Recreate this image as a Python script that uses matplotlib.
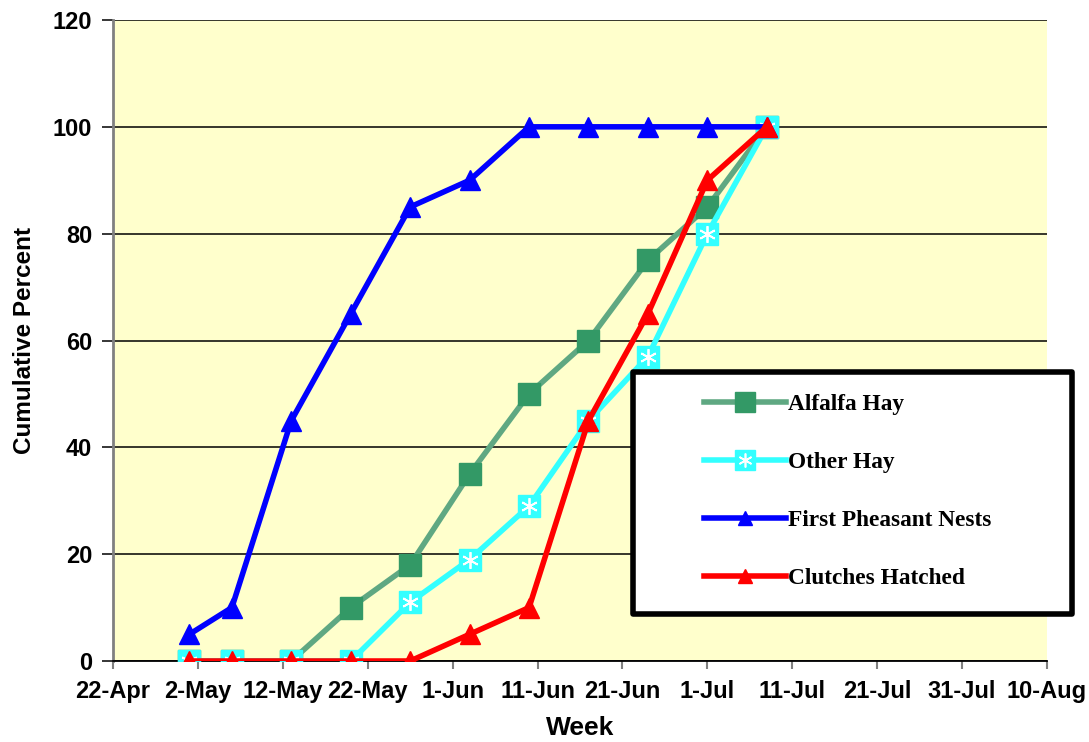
import matplotlib
matplotlib.use("Agg")
import matplotlib.pyplot as plt
from matplotlib.patches import Rectangle
from matplotlib.lines import Line2D
import datetime as dt

# ---- data ----
dates = ["2003-05-01", "2003-05-06", "2003-05-13", "2003-05-20", "2003-05-27",
         "2003-06-03", "2003-06-10", "2003-06-17", "2003-06-24", "2003-07-01",
         "2003-07-08"]
alfalfa_hay = [0, 0, 0, 10, 18, 35, 50, 60, 75, 85, 100]
other_hay = [0, 0, 0, 0, 11, 19, 29, 45, 57, 80, 100]
first_nests = [5, 10, 45, 65, 85, 90, 100, 100, 100, 100, 100]
clutches_hatched = [0, 0, 0, 0, 0, 5, 10, 45, 65, 90, 100]
series_names = ["Alfalfa Hay", "Other Hay", "First Pheasant Nests", "Clutches Hatched"]
tick_dates = ["2003-04-22", "2003-05-02", "2003-05-12", "2003-05-22", "2003-06-01",
              "2003-06-11", "2003-06-21", "2003-07-01", "2003-07-11", "2003-07-21",
              "2003-07-31", "2003-08-10"]
tick_labels = ["22-Apr", "2-May", "12-May", "22-May", "1-Jun", "11-Jun", "21-Jun",
               "1-Jul", "11-Jul", "21-Jul", "31-Jul", "10-Aug"]
y_ticks = [0, 20, 40, 60, 80, 100, 120]

x = [dt.datetime.strptime(d, "%Y-%m-%d") for d in dates]
xt = [dt.datetime.strptime(d, "%Y-%m-%d") for d in tick_dates]

W, H = 1089, 742
fig = plt.figure(figsize=(W / 100, H / 100), dpi=100)
ax = fig.add_axes([113 / W, 1 - 661 / H, (1047 - 113) / W, (661 - 20) / H])
ax.set_facecolor("#FFFFCC")

green_line = "#5FA882"
green_mk = "#339966"
cyan = "#33FFFF"
blue = "#0000FF"
red = "#FF0000"

ax.plot(x, alfalfa_hay, color=green_line, lw=4, zorder=3)
ax.plot(x, alfalfa_hay, ls="none", marker="s", ms=16, mfc=green_mk, mec=green_mk, zorder=4)
ax.plot(x, other_hay, color=cyan, lw=4, zorder=5)
ax.plot(x, other_hay, ls="none", marker="s", ms=16, mfc=cyan, mec=cyan, zorder=6)
ax.plot(x, other_hay, ls="none", marker=(6, 2, 0), ms=12, mec="white", mew=1.3, zorder=6)
ax.plot(x, first_nests, color=blue, lw=4, marker="^", ms=14, mfc=blue, mec=blue, zorder=7)
ax.plot(x, clutches_hatched, color=red, lw=4, marker="^", ms=14, mfc=red, mec=red, zorder=8)

ax.set_xlim(xt[0], xt[-1])
ax.set_ylim(0, 120)
ax.set_xticks(xt)
ax.set_xticklabels(tick_labels)
ax.set_yticks(y_ticks)

for lab in ax.get_xticklabels() + ax.get_yticklabels():
    lab.set_fontfamily("Liberation Sans")
    lab.set_fontweight("bold")
    lab.set_fontsize(17)

ax.yaxis.grid(True, color="black", lw=1.1)
ax.set_axisbelow(True)
ax.tick_params(axis="y", direction="out", length=8, width=1.1, color="black", pad=7)
ax.tick_params(axis="x", direction="out", length=6, width=1.5, color="#808080", pad=8)

for s in ["top", "right"]:
    ax.spines[s].set_visible(False)
ax.spines["left"].set_color("#808080")
ax.spines["left"].set_linewidth(2)
ax.spines["bottom"].set_color("black")
ax.spines["bottom"].set_linewidth(1.3)

ax.set_xlabel("Week", fontfamily="Liberation Sans", fontweight="bold", fontsize=19, labelpad=9)
ax.set_ylabel("Cumulative Percent", fontfamily="Liberation Sans", fontweight="bold",
              fontsize=17.5, labelpad=12)

# legend box
x0 = (633 - 113) / 934
y0 = (661 - 614) / 641
bw = (1072 - 633) / 934
bh = (614 - 372) / 641
rect = Rectangle((x0, y0), bw, bh, transform=ax.transAxes, facecolor="white",
                 edgecolor="black", lw=4, clip_on=False, zorder=20, joinstyle="round")
ax.add_patch(rect)

h_alf = (Line2D([], [], color=green_line, lw=4),
         Line2D([], [], ls="none", marker="s", ms=14, mfc=green_mk, mec=green_mk))
h_oth = (Line2D([], [], color=cyan, lw=4),
         Line2D([], [], ls="none", marker="s", ms=14, mfc=cyan, mec=cyan),
         Line2D([], [], ls="none", marker=(6, 2, 0), ms=10, mec="white", mew=1.2))
h_nest = Line2D([], [], color=blue, lw=4, marker="^", ms=10, mfc=blue, mec=blue)
h_hat = Line2D([], [], color=red, lw=4, marker="^", ms=10, mfc=red, mec=red)

leg = ax.legend([h_alf, h_oth, h_nest, h_hat], series_names,
                loc="upper left",
                bbox_to_anchor=((704 - 113) / 934, (661 - 394) / 641),
                frameon=False, numpoints=1, handlelength=3.5, handletextpad=0.12,
                labelspacing=1.57, borderpad=0.0, borderaxespad=0.0,
                prop={"family": "Liberation Serif", "weight": "bold", "size": 16.8})
leg.set_zorder(21)

fig.savefig("out.png", dpi=100)
